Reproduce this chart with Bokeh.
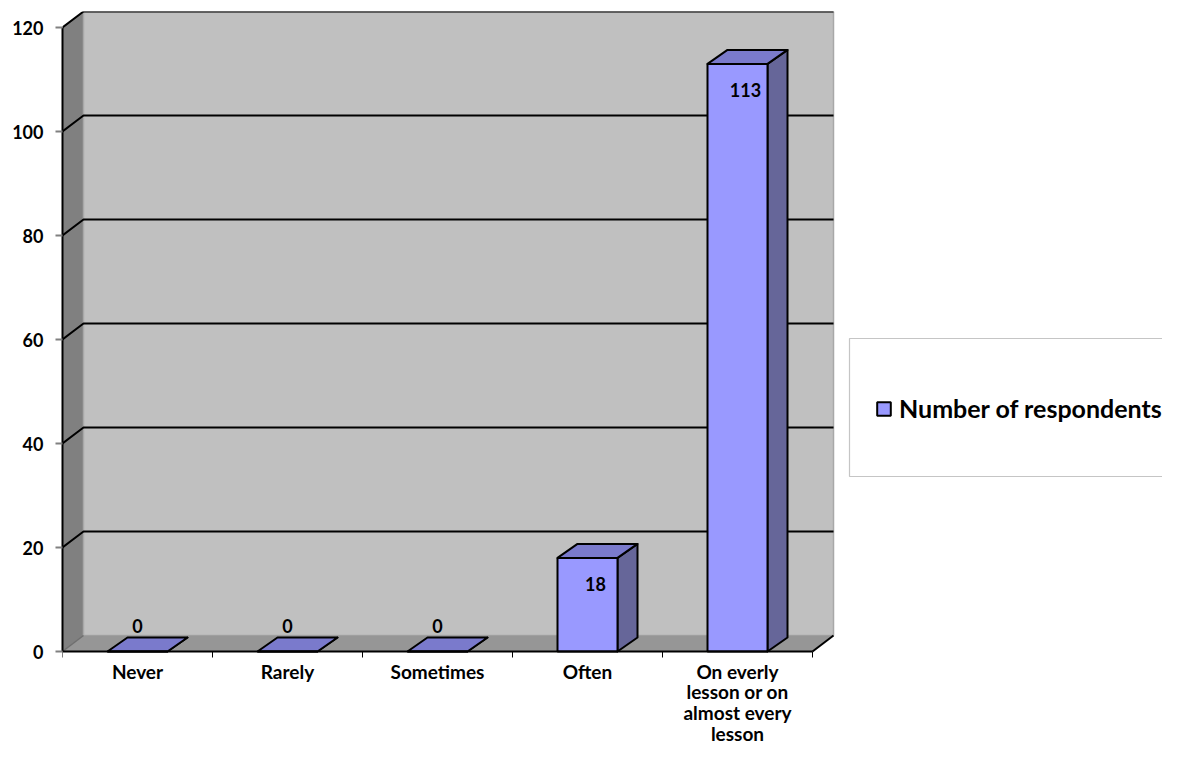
import numpy as np
from bokeh.plotting import figure
from bokeh.models import (Range1d, FixedTicker, ColumnDataSource, Legend, LegendItem,
                          BoxAnnotation)
from bokeh.core.properties import value
from bokeh.embed import file_html
from bokeh.resources import INLINE

# ---- data ----
categories = ["Never", "Rarely", "Sometimes", "Often",
              "On everly lesson or on almost every lesson"]
tick_labels = ["Never", "Rarely", "Sometimes", "Often",
               "On everly\nlesson or on\nalmost every\nlesson"]
values = [0, 0, 0, 18, 113]
y_ticks = [0, 20, 40, 60, 80, 100, 120]
series_name = "Number of respondents"

# ---- style ----
FONT = "Lato"
BACK = "#C0C0C0"
SIDEWALL = "#808080"
FLOOR = "#969696"
FRONT = "#9999FF"
TOP = "#7A7ACC"
SIDE = "#666699"

W, H = 1162, 749
BL, BR, BT, BB = 62, 0, 11, 0
ZERO_PX = 651                     # pixel row of the value 0
PX_X = 150.0                      # px per category
PX_Y = 5.2                        # px per unit
FRAME_W = W - BL - BR
X0 = -0.5
X1 = X0 + FRAME_W / PX_X
Y0 = -(H - ZERO_PX) / PX_Y
Y1 = (ZERO_PX - BT) / PX_Y

DX = 21 / PX_X                    # wall depth
DY = 16 / PX_Y
BDX = 20 / PX_X                   # bar depth
BDY = 14 / PX_Y
HALF = 30 / PX_X                  # bar half width

n = len(categories)
xs = np.arange(n, dtype=float)
vals = np.array(values, dtype=float)
xl, xr = X0, n - 0.5
ymax = max(y_ticks)

p = figure(width=W, height=H, output_backend="svg", toolbar_location=None,
           x_range=Range1d(X0, X1), y_range=Range1d(Y0, Y1),
           min_border_left=BL, min_border_right=BR, min_border_top=BT,
           min_border_bottom=BB)
p.outline_line_color = None
p.grid.visible = False
p.background_fill_color = "white"

# walls
p.patch([xl, xl + DX, xl + DX, xl], [0, DY, ymax + DY, ymax],
        fill_color=SIDEWALL, line_color=None)
p.patch([xl + DX, xr + DX, xr + DX, xl + DX], [DY, DY, ymax + DY, ymax + DY],
        fill_color=BACK, line_color="#A8A8A8", line_width=1.5)
p.patch([xl, xr, xr + DX, xl + DX], [0, 0, DY, DY],
        fill_color=FLOOR, line_color=None)
p.line([xr, xr + DX], [0, DY], line_color="black", line_width=2)
p.line([xl, xl + DX], [0, DY], line_color="#6E6E6E", line_width=1.5)

# gridlines (left wall diagonal + back wall)
gx = [[xl, xl + DX, xr + DX] for t in y_ticks[1:]]
gy = [[t, t + DY, t + DY] for t in y_ticks[1:]]
p.multi_line(gx, gy, line_color="black", line_width=2)

# bars
side_x = [[x + HALF, x + HALF + BDX, x + HALF + BDX, x + HALF] for x in xs]
side_y = [[0, BDY, v + BDY, v] for v in vals]
p.patches(side_x, side_y, fill_color=SIDE, line_color="black", line_width=2,
          line_join="round")
top_x = [[x - HALF, x + HALF, x + HALF + BDX, x - HALF + BDX] for x in xs]
top_y = [[v, v, v + BDY, v + BDY] for v in vals]
p.patches(top_x, top_y, fill_color=TOP, line_color="black", line_width=2,
          line_join="round")
front = p.quad(left=xs - HALF, right=xs + HALF, bottom=0, top=vals,
               fill_color=FRONT, line_color="black", line_width=2)

# data labels
lab = ColumnDataSource(dict(
    x=xs, y=vals, text=[str(v) for v in values],
    xo=[0 if v == 0 else 8 for v in values],
    yo=[-26 if v == 0 else 26 for v in values]))
p.text(x="x", y="y", text="text", source=lab, x_offset="xo", y_offset="yo",
       text_align="center", text_baseline="middle",
       text_font=value(FONT), text_font_style="bold", text_font_size="18px",
       text_color="black")

# axes
ya = p.yaxis[0]
ya.ticker = FixedTicker(ticks=y_ticks)
ya.bounds = (0, ymax)
ya.axis_line_color = "black"
ya.axis_line_width = 2
ya.major_tick_line_color = "#808080"
ya.major_tick_line_width = 2
ya.major_tick_out = 7
ya.major_tick_in = 0
ya.minor_tick_line_color = None
ya.major_label_standoff = 12
ya.major_label_text_font = FONT
ya.major_label_text_font_style = "bold"
ya.major_label_text_font_size = "18px"
ya.major_label_text_color = "black"

xa = p.xaxis[0]
xa.fixed_location = 0
xa.ticker = FixedTicker(ticks=list(xs), minor_ticks=list(np.arange(n + 1) - 0.5))
xa.bounds = (xl, xr)
xa.major_label_overrides = {float(x): t for x, t in zip(xs, tick_labels)}
xa.axis_line_color = "black"
xa.axis_line_width = 2
xa.major_tick_out = 0
xa.major_tick_in = 0
xa.major_tick_line_color = None
xa.minor_tick_out = 6
xa.minor_tick_in = 0
xa.minor_tick_line_color = "black"
xa.minor_tick_line_width = 1
xa.major_label_standoff = 2
xa.major_label_text_font = FONT
xa.major_label_text_font_style = "bold"
xa.major_label_text_font_size = "19px"
xa.major_label_text_line_height = 0.9
xa.major_label_text_color = "black"

# legend box + legend
box = BoxAnnotation(left=X0 + (849 - BL) / PX_X, right=X1 + 0.2,
                    bottom=(ZERO_PX - 476) / PX_Y, top=(ZERO_PX - 338) / PX_Y,
                    fill_color="white", fill_alpha=1.0,
                    line_color="#404040", line_width=1.2)
p.add_layout(box)
legend = Legend(items=[LegendItem(label=series_name, renderers=[front])],
                location=(813, (H - ZERO_PX) + (ZERO_PX - 408) - 15),
                padding=0, margin=0,
                background_fill_alpha=0, border_line_alpha=0,
                glyph_width=17, glyph_height=17, label_standoff=7,
                label_text_font=FONT, label_text_font_style="bold",
                label_text_font_size="25px", label_text_color="black")
p.add_layout(legend)

open("out.html", "w").write(file_html(p, INLINE))
